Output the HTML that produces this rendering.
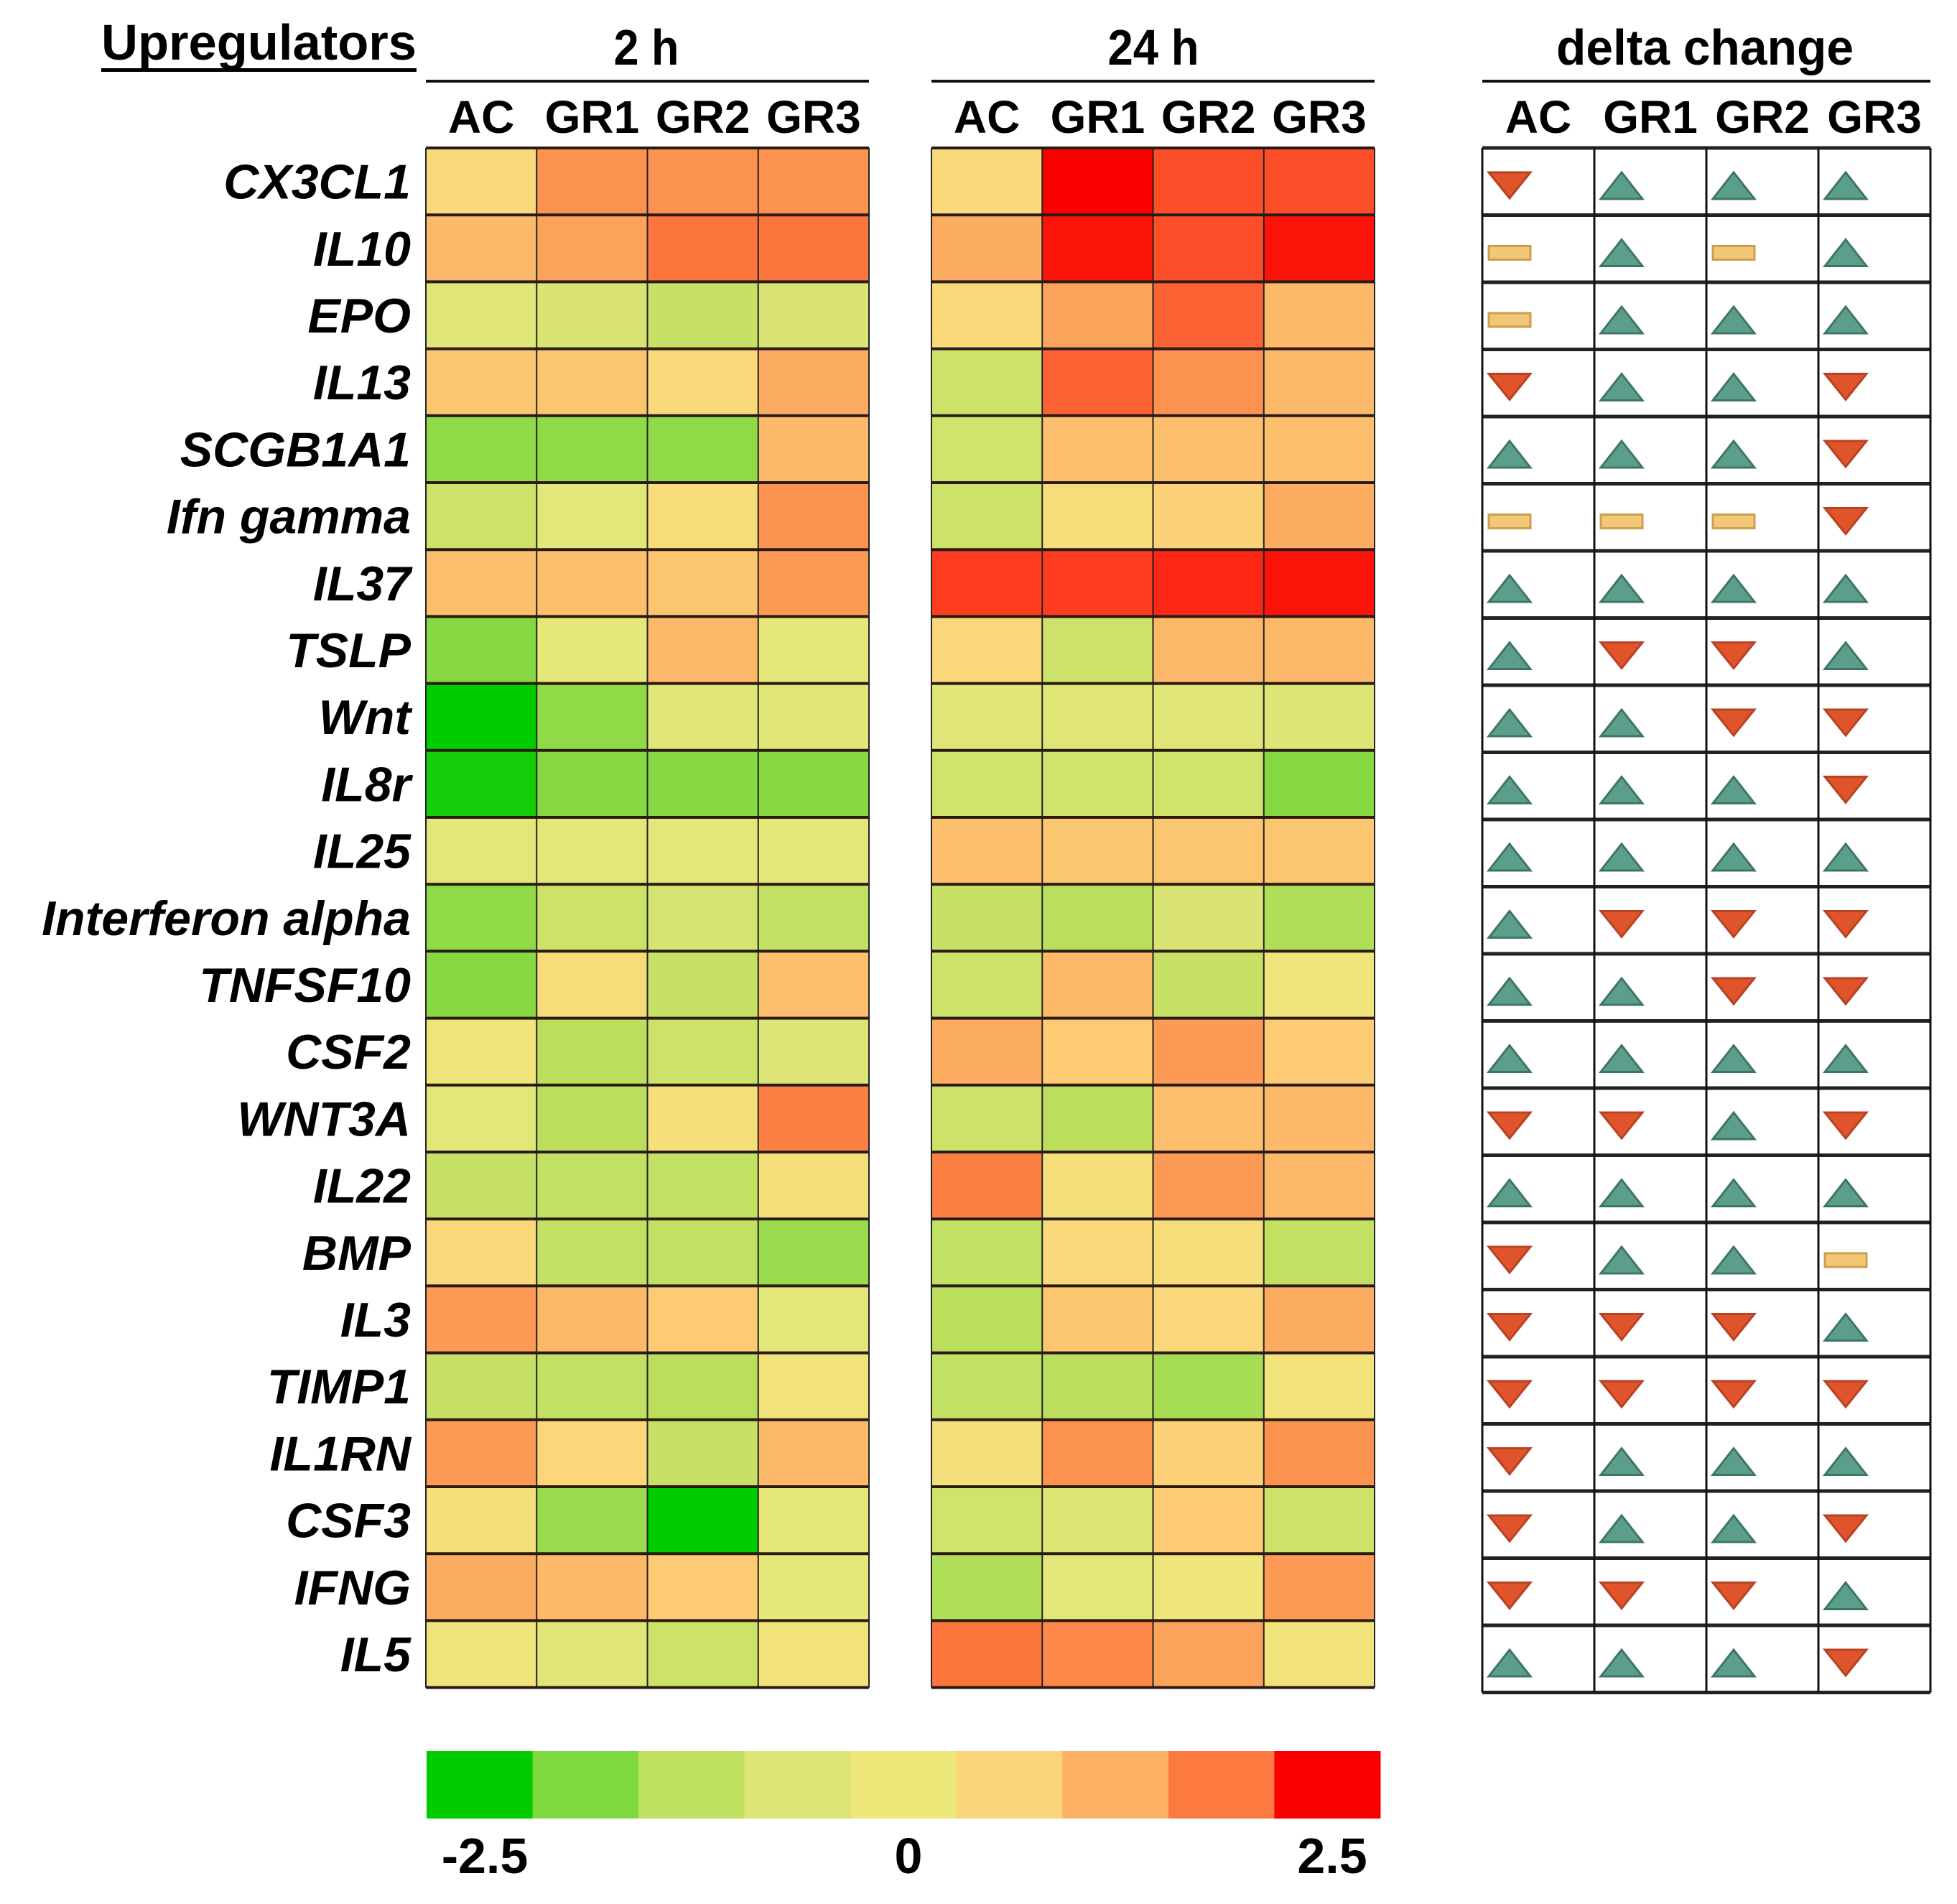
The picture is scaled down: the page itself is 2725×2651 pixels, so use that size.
<!DOCTYPE html>
<html><head><meta charset="utf-8"><style>
html,body{margin:0;padding:0;background:#fff}
svg{display:block}
text{font-family:"Liberation Sans Narrow","Liberation Sans",sans-serif;font-weight:bold;fill:#000}
.gene{font-family:"Liberation Sans",sans-serif;font-style:italic;font-size:68px}
</style></head><body>
<svg id="chart" width="2725" height="2651" viewBox="0 0 2725 2651" xmlns="http://www.w3.org/2000/svg">
<g id="static">
<text x="141" y="83" font-size="70" textLength="439" lengthAdjust="spacingAndGlyphs">Upregulators</text>
<rect x="141" y="95" width="439" height="5" fill="#000"/>
<text x="900" y="90" font-size="70" text-anchor="middle" textLength="91" lengthAdjust="spacingAndGlyphs">2 h</text>
<rect x="593" y="111" width="617" height="4" fill="#111"/>
<text x="1606" y="90" font-size="70" text-anchor="middle" textLength="127" lengthAdjust="spacingAndGlyphs">24 h</text>
<rect x="1297" y="111" width="617" height="4" fill="#111"/>
<text x="2374" y="90" font-size="70" text-anchor="middle" textLength="414" lengthAdjust="spacingAndGlyphs">delta change</text>
<rect x="2064" y="111" width="624" height="4" fill="#111"/>
</g>
<g id="marks"></g>
</svg>
<script>
const genes=["CX3CL1","IL10","EPO","IL13","SCGB1A1","Ifn gamma","IL37","TSLP","Wnt","IL8r","IL25","Interferon alpha","TNFSF10","CSF2","WNT3A","IL22","BMP","IL3","TIMP1","IL1RN","CSF3","IFNG","IL5"];
const groups=["AC","GR1","GR2","GR3"];
const values2h=[
[0.5,1.6,1.6,1.6],[1.1,1.4,1.9,1.9],[-0.5,-0.7,-1.1,-0.7],[0.9,0.9,0.5,1.3],[-1.7,-1.7,-1.7,1.1],
[-1.0,-0.4,0.4,1.6],[1.0,1.0,0.9,1.5],[-1.8,-0.3,1.1,-0.3],[-2.5,-1.7,-0.5,-0.5],[-2.4,-1.8,-1.8,-1.8],
[-0.4,-0.4,-0.4,-0.4],[-1.7,-1.0,-0.8,-1.2],[-1.8,0.4,-1.1,1.0],[0.1,-1.3,-1.0,-0.6],[-0.4,-1.3,0.3,1.8],
[-1.1,-1.2,-1.2,0.3],[0.5,-1.2,-1.2,-1.6],[1.5,1.1,0.8,-0.4],[-1.1,-1.2,-1.3,0.2],[1.5,0.6,-1.1,1.1],
[0.3,-1.6,-2.5,-0.3],[1.3,1.1,0.8,-0.3],[0.1,-0.5,-1.0,0.2]];
const values24h=[
[0.5,2.5,2.1,2.1],[1.3,2.4,2.1,2.4],[0.5,1.4,2.0,1.1],[-1.0,2.0,1.6,1.1],[-0.9,1.0,1.0,1.0],
[-1.0,0.4,0.7,1.3],[2.2,2.2,2.3,2.4],[0.6,-1.0,1.1,1.1],[-0.5,-0.5,-0.5,-0.6],[-0.9,-0.9,-0.9,-1.8],
[1.0,0.9,0.9,0.9],[-1.1,-1.3,-0.7,-1.4],[-1.0,1.1,-1.1,0.1],[1.3,0.8,1.5,0.8],[-1.0,-1.3,1.0,1.1],
[1.8,0.3,1.5,1.1],[-1.2,0.5,0.4,-1.2],[-1.3,0.9,0.6,1.3],[-1.2,-1.3,-1.5,0.2],[0.3,1.6,0.7,1.6],
[-0.9,-0.6,0.8,-1.0],[-1.4,-0.4,0.1,1.5],[1.9,1.7,1.4,0.2]];
const deltas=["duuu","nunu","nuuu","duud","uuud","nnnd","uuuu","uddu","uudd","uuud",
"uuuu","uddd","uudd","uuuu","ddud","uuuu","duun","dddu","dddd","duuu","duud","dddu","uuud"];
const stopColors=["#00cc00","#7ed83f","#c0e060","#dde577","#eee87a","#fcd57a","#fcb064","#fc7a40","#fc0000"];
const legendTicks=[-2.5,0,2.5];
const legendTickLabels=["-2.5","0","2.5"];
const vMin=-2.5,vMax=2.5;

const NS="http://www.w3.org/2000/svg";
const g=document.getElementById('marks');
function mk(tag,attrs){const e=document.createElementNS(NS,tag);for(const k in attrs)e.setAttribute(k,attrs[k]);g.appendChild(e);return e;}
function hex(c){return [1,3,5].map(i=>parseInt(c.substr(i,2),16));}
function color(v){let t=(v-vMin)/(vMax-vMin);t=Math.max(0,Math.min(1,t))*(stopColors.length-1);
 const i=Math.min(stopColors.length-2,Math.floor(t)),f=t-i;const a=hex(stopColors[i]),b=hex(stopColors[i+1]);
 return "rgb("+a.map((x,k)=>Math.round(x+(b[k]-x)*f)).join(",")+")";}
const top0=206,rowH=93.2,colW=154.25;
const panels=[{x:593,data:values2h,name:"2h"},{x:1297,data:values24h,name:"24h"}];
function yRow(i){return top0+i*rowH;}
genes.forEach((gn,i)=>{const t=mk('text',{x:572,y:yRow(i)+rowH/2+24,'text-anchor':'end',class:'gene'});
 
 
 t.textContent=gn;});
[593,1297,2064].forEach((px,pi)=>{const cw=pi==2?156:colW;groups.forEach((gr,j)=>{
 const t=mk('text',{x:px+cw*(j+0.5),y:185,'font-size':64,'text-anchor':'middle'});
 
 
 t.textContent=gr;});});
panels.forEach(p=>{p.data.forEach((row,i)=>row.forEach((v,j)=>{
 const r=mk('rect',{x:p.x+j*colW,y:yRow(i),width:colW,height:rowH,fill:color(v)});
 
 }));
 for(let j=1;j<4;j++){const l=mk('line',{x1:p.x+j*colW,x2:p.x+j*colW,y1:top0,y2:yRow(genes.length),stroke:'#222','stroke-width':2});
  
  }
 for(let i=0;i<=genes.length;i++){const l=mk('line',{x1:p.x,x2:p.x+4*colW,y1:yRow(i),y2:yRow(i),stroke:'#2a1a14','stroke-width':4});
  
  }
 [0,4].forEach(j=>{const l=mk('line',{x1:p.x+j*colW,x2:p.x+j*colW,y1:top0,y2:yRow(genes.length),stroke:'#222','stroke-width':2});
  
  });
});
const dx=2064,dW=156,dH=93.5;
for(let i=0;i<=genes.length;i++){const l=mk('line',{x1:dx,x2:dx+4*dW,y1:top0+i*dH,y2:top0+i*dH,stroke:'#222','stroke-width':5});
 
 }
for(let j=0;j<=4;j++){const l=mk('line',{x1:dx+j*dW,x2:dx+j*dW,y1:top0,y2:top0+genes.length*dH,stroke:'#111','stroke-width':3});
 
 }
deltas.forEach((s,i)=>{for(let j=0;j<4;j++){const c=s[j];const x0=dx+j*dW+9,y0=top0+i*dH;let e;
 if(c=='u')e=mk('polygon',{points:`${x0},${y0+71} ${x0+58},${y0+71} ${x0+29},${y0+34}`,fill:'#5c9e8c',stroke:'#3f7566','stroke-width':3});
 else if(c=='d')e=mk('polygon',{points:`${x0},${y0+34} ${x0+58},${y0+34} ${x0+29},${y0+70}`,fill:'#e0542c',stroke:'#b84222','stroke-width':3});
 else e=mk('rect',{x:x0,y:y0+43,width:58,height:19,fill:'#f2c878',stroke:'#c9a04c','stroke-width':3});
 
 }});
const lx0=594,lx1=1922,ly=2450-12,lh=94;const n=stopColors.length;const sw=(lx1-lx0)/n;
stopColors.forEach((c,k)=>{const r=mk('rect',{x:lx0+k*sw,y:ly,width:sw+0.5,height:lh,fill:c});
 
 });
const tickX=[675,1270,1855];
function legX(v){return tickX[0]+(v-vMin)/(vMax-vMin)*(tickX[2]-tickX[0]);}
legendTicks.forEach((v,k)=>{const t=mk('text',{x:legX(v),y:2608,'font-size':70,'text-anchor':'middle'});
 
 
 t.textContent=legendTickLabels[k];});
</script>
</body></html>
